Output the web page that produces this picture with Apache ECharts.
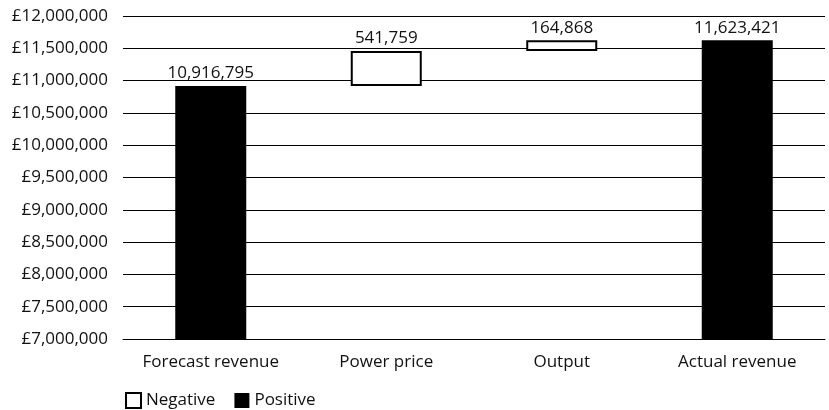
<!DOCTYPE html>
<html>
<head>
<meta charset="utf-8">
<script src="https://cdn.jsdelivr.net/npm/echarts@6/dist/echarts.min.js"></script>
<style>
html,body{margin:0;padding:0;background:#fff;}
#chart{width:829px;height:410px;}
</style>
</head>
<body>
<div id="chart"></div>
<script>
const categories = ['Forecast revenue', 'Power price', 'Output', 'Actual revenue'];
const totals = [10916795, null, null, 11623421];
const changes = [null, 541759, 164868, null];
const yTicks = { min: 7000000, max: 12000000, interval: 500000 };

function fmt(v) { return String(Math.round(v)).replace(/\B(?=(\d{3})+(?!\d))/g, ','); }

// invisible base for floating bars, built from data
const base = [];
let running = 0;
for (let i = 0; i < categories.length; i++) {
  if (totals[i] != null) { base.push(0); running = totals[i]; }
  else { base.push(running); running += changes[i]; }
}

const FONT = '"Open Sans"';
const FS = 17;
const chart = echarts.init(document.getElementById('chart'));
chart.setOption({
  animation: false,
  textStyle: { fontFamily: FONT },
  grid: { left: 123, right: 4, top: 16, bottom: 71, containLabel: false },
  legend: {
    left: 120, top: 387, itemWidth: 15, itemHeight: 15, itemGap: 19,
    textStyle: { fontFamily: FONT, fontSize: FS, color: '#111' },
    data: [
      { name: 'Negative', icon: 'rect', itemStyle: { color: '#fff', borderColor: '#000', borderWidth: 2 } },
      { name: 'Positive', icon: 'rect', itemStyle: { color: '#000' } }
    ]
  },
  xAxis: {
    type: 'category', data: categories,
    axisLine: { show: true, lineStyle: { color: '#000', width: 1 } },
    axisTick: { show: false },
    axisLabel: { interval: 0, hideOverlap: false, fontFamily: FONT, fontSize: FS, color: '#111', margin: 15 }
  },
  yAxis: {
    type: 'value', min: yTicks.min, max: yTicks.max, interval: yTicks.interval,
    axisLine: { show: false }, axisTick: { show: false },
    splitLine: { lineStyle: { color: '#000', width: 1 } },
    axisLabel: { fontFamily: FONT, fontSize: FS, color: '#111', margin: 15, formatter: v => '£' + fmt(v) }
  },
  series: [
    { name: 'base', type: 'bar', stack: 'w', barWidth: 71, silent: true,
      itemStyle: { color: 'transparent' }, data: base },
    { name: 'Negative', type: 'bar', stack: 'w', barWidth: 71,
      itemStyle: { color: '#fff', borderColor: '#000', borderWidth: 2 },
      label: { show: true, position: 'top', distance: 4, fontFamily: FONT, fontSize: FS, color: '#111', formatter: p => fmt(p.value) },
      data: changes.map(v => v == null ? '-' : v) },
    { name: 'Positive', type: 'bar', stack: 'w', barWidth: 71,
      itemStyle: { color: '#000' },
      label: { show: true, position: 'top', distance: 4, fontFamily: FONT, fontSize: FS, color: '#111', formatter: p => fmt(p.value) },
      data: totals.map(v => v == null ? '-' : v) }
  ]
});
</script>
</body>
</html>
